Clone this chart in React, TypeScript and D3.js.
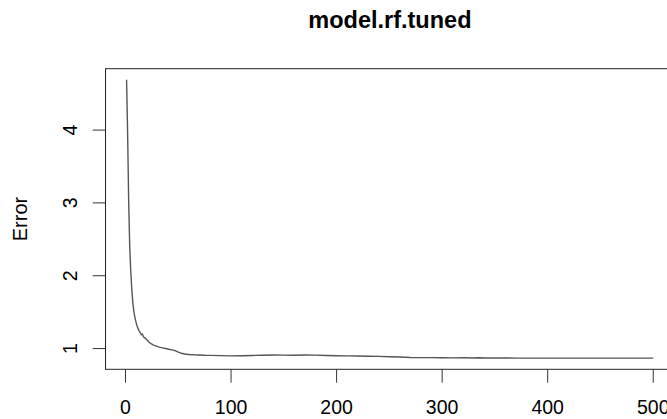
import * as d3 from "d3";
import { useRef, useEffect } from "react";

// number of trees / OOB error
const trees = [
  1, 2, 3, 4, 5, 6, 7, 8, 9, 10, 11, 12, 13, 14, 15, 16, 17, 18, 19, 20,
  21, 22, 23, 24, 25, 26, 28, 30, 32, 35, 38, 41, 44, 47, 50, 53, 56, 60,
  65, 70, 75, 80, 90, 100, 110, 120, 130, 140, 150, 160, 170, 180, 190,
  200, 210, 220, 230, 240, 250, 260, 270, 280, 290, 300, 310, 320, 330,
  335, 340, 350, 360, 370, 380, 400, 420, 440, 460, 480, 500,
];
const errors = [
  4.69, 3.96, 3.02, 2.4, 2.05, 1.8, 1.62, 1.5, 1.42, 1.36, 1.31, 1.27, 1.24,
  1.22, 1.19, 1.2, 1.16, 1.15, 1.14, 1.12, 1.11, 1.09, 1.08, 1.07, 1.06,
  1.05, 1.04, 1.03, 1.02, 1.01, 1.0, 0.99, 0.982, 0.972, 0.95, 0.935, 0.925,
  0.918, 0.914, 0.912, 0.908, 0.906, 0.903, 0.9, 0.902, 0.905, 0.909, 0.911,
  0.91, 0.908, 0.911, 0.91, 0.905, 0.902, 0.9, 0.898, 0.895, 0.892, 0.888,
  0.884, 0.878, 0.876, 0.875, 0.874, 0.872, 0.873, 0.871, 0.874, 0.87, 0.871,
  0.87, 0.869, 0.868, 0.868, 0.868, 0.868, 0.868, 0.868, 0.868,
];
const xTicks = [0, 100, 200, 300, 400, 500];
const yTicks = [1, 2, 3, 4];
const title = "model.rf.tuned";
const yLabel = "Error";

const W = 667;
const H = 419;
const FONT = "'Liberation Sans', Arial, sans-serif";

// R style 4% padding of the data range
const pad = (ext: number[]) => {
  const d = (ext[1] - ext[0]) * 0.04;
  return [ext[0] - d, ext[1] + d];
};

const App = () => {
  const chartRef = useRef(null);

  useEffect(() => {
    const svg = d3.select(chartRef.current);
    svg.selectAll("*").remove();

    const box = { left: 105.5, right: 674.3, top: 68.7, bottom: 369.3 };

    const x = d3.scaleLinear()
      .domain(pad(d3.extent(trees) as number[]))
      .range([box.left, box.right]);
    const y = d3.scaleLinear()
      .domain(pad(d3.extent(errors) as number[]))
      .range([box.bottom, box.top]);

    svg.append("rect")
      .attr("width", W)
      .attr("height", H)
      .attr("fill", "#fff");

    // curve
    const line = d3.line<number>()
      .x((d, i) => x(trees[i]))
      .y((d) => y(d));
    svg.append("path")
      .datum(errors)
      .attr("d", line)
      .attr("fill", "none")
      .attr("stroke", "#555")
      .attr("stroke-width", 1.4);

    // plot box
    svg.append("rect")
      .attr("x", box.left)
      .attr("y", box.top)
      .attr("width", box.right - box.left)
      .attr("height", box.bottom - box.top)
      .attr("fill", "none")
      .attr("stroke", "#222")
      .attr("stroke-width", 1);

    // x axis
    const xAxis = svg.append("g");
    xAxis.selectAll("line")
      .data(xTicks)
      .enter()
      .append("line")
      .attr("x1", (d) => x(d))
      .attr("x2", (d) => x(d))
      .attr("y1", box.bottom)
      .attr("y2", box.bottom + 13.4)
      .attr("stroke", "#333")
      .attr("stroke-width", 1);
    xAxis.selectAll("text")
      .data(xTicks)
      .enter()
      .append("text")
      .attr("x", (d) => x(d))
      .attr("y", 413.5)
      .attr("text-anchor", "middle")
      .style("font-family", FONT)
      .style("font-size", "19.5px")
      .attr("fill", "#000")
      .text((d) => d);

    // y axis
    const yAxis = svg.append("g");
    yAxis.selectAll("line")
      .data(yTicks)
      .enter()
      .append("line")
      .attr("x1", box.left)
      .attr("x2", box.left - 12.8)
      .attr("y1", (d) => y(d))
      .attr("y2", (d) => y(d))
      .attr("stroke", "#333")
      .attr("stroke-width", 1);
    yAxis.selectAll("text")
      .data(yTicks)
      .enter()
      .append("text")
      .attr("transform", (d) => `translate(76.5, ${y(d)}) rotate(-90)`)
      .attr("text-anchor", "middle")
      .style("font-family", FONT)
      .style("font-size", "19.5px")
      .attr("fill", "#000")
      .text((d) => d);

    svg.append("text")
      .attr("transform", `translate(27, ${(box.top + box.bottom) / 2}) rotate(-90)`)
      .attr("text-anchor", "middle")
      .style("font-family", FONT)
      .style("font-size", "20px")
      .attr("fill", "#000")
      .text(yLabel);

    svg.append("text")
      .attr("x", (box.left + box.right) / 2)
      .attr("y", 28)
      .attr("text-anchor", "middle")
      .style("font-family", FONT)
      .style("font-size", "23.5px")
      .style("font-weight", "bold")
      .attr("fill", "#000")
      .text(title);
  }, []);

  return (
    <svg
      ref={chartRef}
      width={W}
      height={H}
      style={{ position: "absolute", left: 0, top: 0 }}
    ></svg>
  );
};

export default App;
